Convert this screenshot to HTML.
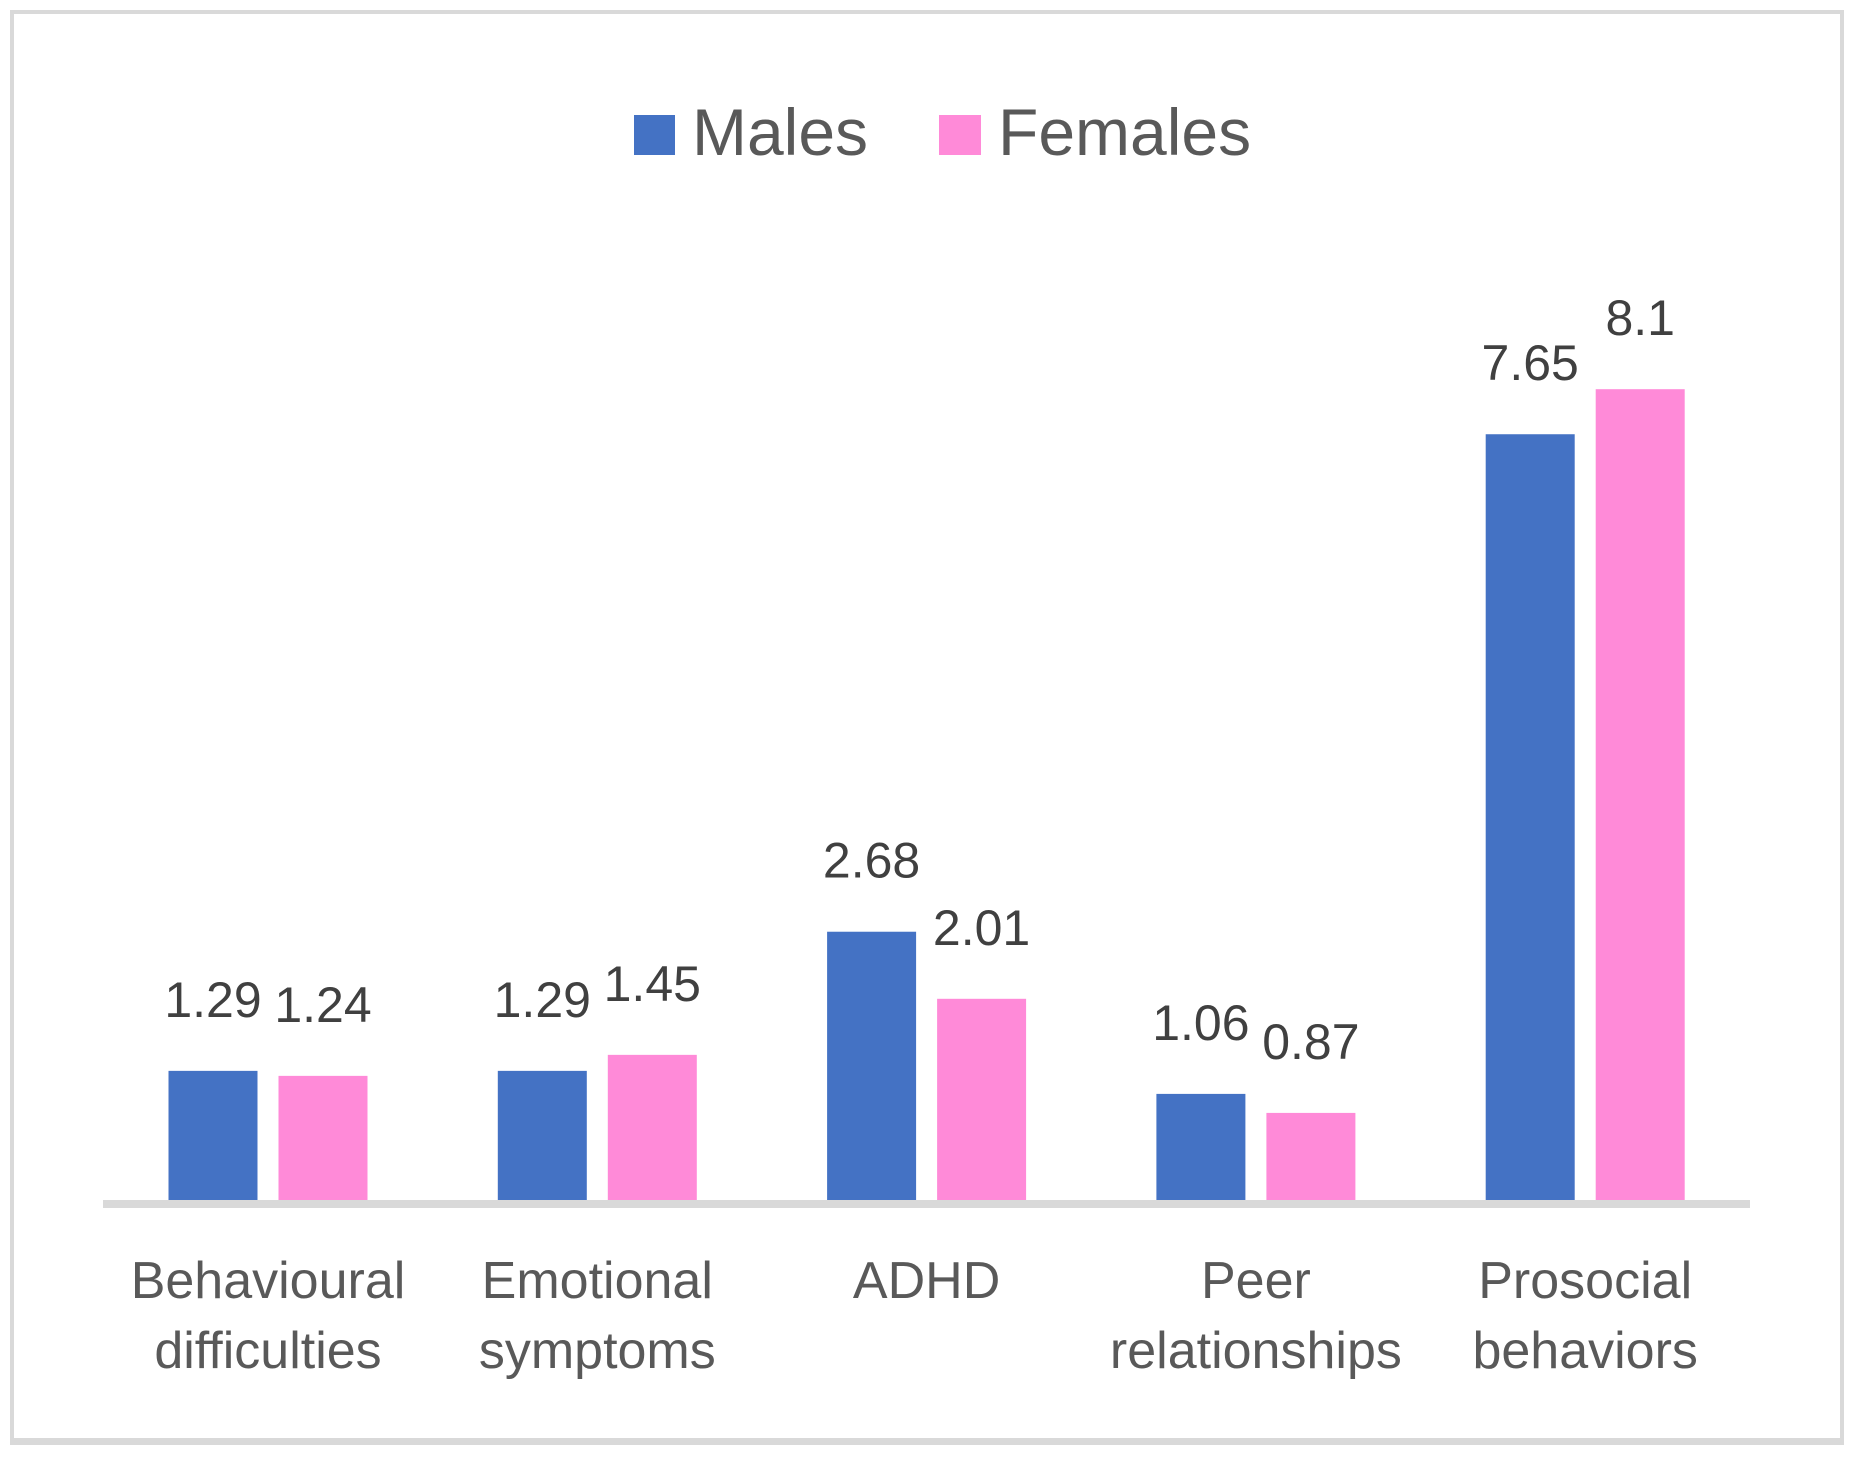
<!DOCTYPE html>
<html><head><meta charset="utf-8"><style>
html,body{margin:0;padding:0;background:#fff}
svg{display:block;font-family:"Liberation Sans",sans-serif}
</style></head><body>
<svg id="chart" width="1857" height="1458" viewBox="0 0 1857 1458">
<rect x="12" y="12" width="1830" height="1428" fill="#fff" stroke="#d9d9d9" stroke-width="4"/>
<rect x="10" y="1438" width="1834" height="7" fill="#d9d9d9"/>
<g>
<rect x="634" y="115" width="41" height="40" fill="#4472c4"/>
<text x="692" y="155" font-size="66" fill="#595959">Males</text>
<rect x="939" y="115" width="42" height="40" fill="#ff8ad8"/>
<text x="998" y="155" font-size="66" fill="#595959">Females</text>
</g>
<g id="bars"></g>
<rect x="103" y="1200" width="1647" height="8" fill="#d9d9d9"/>
<g id="labels"></g>
</svg>
<script>
const categories = [["Behavioural","difficulties"],["Emotional","symptoms"],["ADHD",""],["Peer","relationships"],["Prosocial","behaviors"]];
const males = [1.29, 1.29, 2.68, 1.06, 7.65];
const females = [1.24, 1.45, 2.01, 0.87, 8.1];
const labelsM = ["1.29","1.29","2.68","1.06","7.65"];
const labelsF = ["1.24","1.45","2.01","0.87","8.1"];

const NS = "http://www.w3.org/2000/svg";
const base = 1200, perUnit = 100.1;
const y = v => base - v * perUnit;
const xc = i => 268 + i * 329.3;
const bw = 89, gap = 21;
const bars = document.getElementById('bars');
const labs = document.getElementById('labels');
function mk(tag, attrs, parent) {
  const e = document.createElementNS(NS, tag);
  for (const k in attrs) e.setAttribute(k, attrs[k]);
  parent.appendChild(e);
  return e;
}
categories.forEach((c, i) => {
  [[males, labelsM, "#4472c4", -1, "males"], [females, labelsF, "#ff8ad8", 1, "females"]].forEach(([vals, lbls, col, side, nm]) => {
    const x0 = side < 0 ? xc(i) - gap / 2 - bw : xc(i) + gap / 2;
    const r = mk('rect', {x: x0, y: y(vals[i]), width: bw, height: base - y(vals[i]), fill: col}, bars);
    
    
    const t = mk('text', {x: x0 + bw / 2, y: y(vals[i]) - 54, 'font-size': 50, fill: '#404040', 'text-anchor': 'middle'}, labs);
    t.textContent = lbls[i];
    
    
  });
  c.forEach((line, j) => {
    if (!line) return;
    const t = mk('text', {x: xc(i), y: 1298 + j * 70, 'font-size': 52, fill: '#595959', 'text-anchor': 'middle'}, labs);
    t.textContent = line;
    
    
  });
});
</script>
</body></html>
